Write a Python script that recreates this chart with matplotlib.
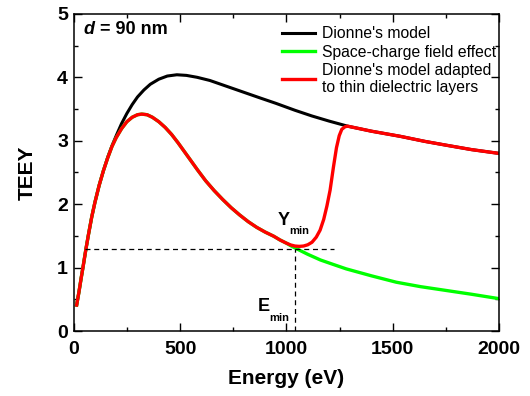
import matplotlib
matplotlib.use('Agg')
import matplotlib.pyplot as plt
from matplotlib.ticker import MultipleLocator

plt.rcParams['font.family'] = ['Liberation Sans', 'DejaVu Sans']

# Dionne's model (black)
e_dionne = [14, 25, 35, 45, 57, 70, 85, 100, 120, 140, 160, 180, 200, 225, 250, 275, 300, 330, 360,
            400, 440, 485, 530, 580, 640, 700, 760, 820, 880, 950, 1040, 1120, 1200, 1287,
            1400, 1534, 1650, 1750, 1870, 2000]
y_dionne = [0.41, 0.62, 0.83, 1.03, 1.28, 1.53, 1.80, 2.03, 2.30, 2.53, 2.74, 2.92, 3.08, 3.27, 3.43, 3.57, 3.69, 3.80, 3.89,
            3.97, 4.02, 4.04, 4.03, 4.00, 3.95, 3.88, 3.81, 3.74, 3.67, 3.59, 3.48, 3.39, 3.31, 3.23,
            3.15, 3.07, 2.99, 2.93, 2.86, 2.80]

# Dionne's model adapted to thin dielectric layers (red)
e_adapted = [14, 25, 35, 45, 57, 70, 85, 100, 120, 140, 160, 180, 200, 225, 250, 275, 300, 320, 345,
             370, 400, 430, 460, 490, 520, 550, 582, 620, 660, 700, 740, 780, 820, 860, 900, 940,
             970, 1000, 1020, 1040, 1060, 1080, 1100, 1120, 1140, 1158, 1175, 1190, 1205, 1221,
             1235, 1248, 1260, 1275, 1287, 1400, 1534, 1650, 1750, 1870, 2000]
y_adapted = [0.41, 0.62, 0.83, 1.03, 1.28, 1.53, 1.80, 2.03, 2.30, 2.53, 2.73, 2.91, 3.05, 3.19, 3.30, 3.37, 3.41, 3.42, 3.41,
             3.37, 3.30, 3.21, 3.10, 2.97, 2.83, 2.69, 2.54, 2.37, 2.215, 2.075, 1.945, 1.83, 1.725, 1.635, 1.56, 1.495,
             1.435, 1.385, 1.357, 1.34, 1.335, 1.34, 1.36, 1.40, 1.48, 1.59, 1.76, 1.97, 2.22, 2.59,
             2.89, 3.08, 3.18, 3.22, 3.23, 3.15, 3.07, 2.99, 2.93, 2.86, 2.80]

# space-charge field effect (green), same as red up to 1000 eV
e_space_tail = [1020, 1040, 1070, 1100, 1160, 1220, 1281, 1400, 1516, 1630, 1750, 1870, 2000]
y_space_tail = [1.345, 1.31, 1.26, 1.21, 1.12, 1.05, 0.98, 0.87, 0.77, 0.70, 0.64, 0.58, 0.51]
n_common = e_adapted.index(1000) + 1
e_space = e_adapted[:n_common] + e_space_tail
y_space = y_adapted[:n_common] + y_space_tail

e_min = 1040
y_min = 1.30
e_dash_start = 55
e_dash_end = 1225

fig = plt.figure(figsize=(5.3, 3.96), dpi=100)
ax = fig.add_axes([0.139, 0.164, 0.803, 0.801])

ax.plot(e_dionne, y_dionne, color='black', lw=2.2, label="Dionne's model")
ax.plot(e_space, y_space, color='#00ff00', lw=2.4, label='Space-charge field effect')
ax.plot(e_adapted, y_adapted, color='#ff0000', lw=2.4,
        label="Dionne's model adapted\nto thin dielectric layers")

ax.plot([e_dash_start, e_dash_end], [y_min, y_min], color='black', lw=0.9, ls=(0, (4, 3)))
ax.plot([e_min, e_min], [0, y_min], color='black', lw=0.9, ls=(0, (4, 3)))

ax.set_xlim(0, 2000)
ax.set_ylim(0, 5)
ax.xaxis.set_major_locator(MultipleLocator(500))
ax.xaxis.set_minor_locator(MultipleLocator(250))
ax.yaxis.set_major_locator(MultipleLocator(1))
ax.yaxis.set_minor_locator(MultipleLocator(0.5))
ax.tick_params(which='both', direction='in', top=True, right=True, width=1)
ax.tick_params(which='major', length=6, labelsize=14)
ax.tick_params(axis='x', which='major', pad=7)
ax.tick_params(axis='y', which='major', pad=4)
ax.tick_params(which='minor', length=3)
for lbl in ax.get_xticklabels() + ax.get_yticklabels():
    lbl.set_fontweight('bold')
for sp in ax.spines.values():
    sp.set_linewidth(1.1)

ax.set_xlabel('Energy (eV)', fontsize=15, fontweight='bold', labelpad=8)
ax.set_ylabel('TEEY', fontsize=15, fontweight='bold', labelpad=15)

ax.text(0.022, 0.951, 'd', transform=ax.transAxes, fontsize=13, fontweight='bold',
        fontstyle='italic', va='center', ha='left')
ax.text(0.061, 0.951, '= 90 nm', transform=ax.transAxes, fontsize=13, fontweight='bold',
        va='center', ha='left')

ax.text(958, 1.75, 'Y', fontsize=13, fontweight='bold', ha='left', va='center')
ax.text(1012, 1.58, 'min', fontsize=8, fontweight='bold', ha='left', va='center')
ax.text(865, 0.38, 'E', fontsize=13, fontweight='bold', ha='left', va='center')
ax.text(920, 0.20, 'min', fontsize=8, fontweight='bold', ha='left', va='center')

ax.legend(loc='upper left', bbox_to_anchor=(0.472, 0.985), frameon=False, fontsize=11.3,
          borderpad=0, handlelength=2.1, handletextpad=0.4, labelspacing=0.2)

fig.savefig('out.png', dpi=100)
